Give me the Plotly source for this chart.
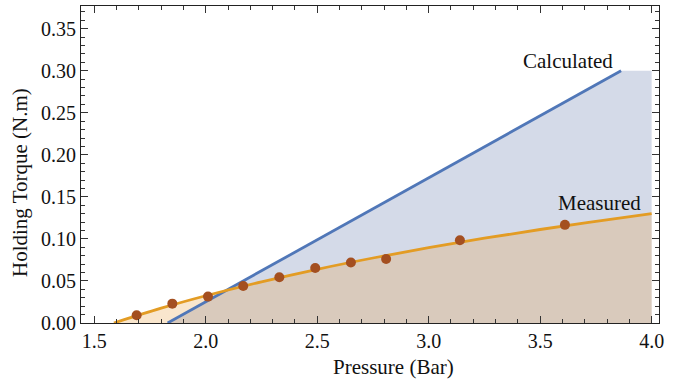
import plotly.graph_objects as go

# Calculated (theoretical) holding torque line
calc_x = [1.829, 3.863]
calc_y = [0.0, 0.30]
# Calculated fill outline (clipped plateau at 0.30 to x=4.0)
calc_fill_x = [1.829, 3.863, 4.0]
calc_fill_y = [0.0, 0.30, 0.30]

# Measured fitted curve
fit_x = [1.588, 1.8, 2.0, 2.25, 2.5, 2.75, 3.0, 3.25, 3.5, 3.75, 4.0]
fit_y = [0.0, 0.0176, 0.0324, 0.049, 0.0639, 0.0773, 0.0895, 0.1008, 0.1112, 0.1209, 0.130]

# Measured data points
meas_x = [1.690, 1.850, 2.010, 2.168, 2.330, 2.491, 2.651, 2.809, 3.140, 3.611]
meas_y = [0.0092, 0.0230, 0.0314, 0.0440, 0.0544, 0.0655, 0.0719, 0.0762, 0.0985, 0.1167]

x_ticks = [1.5, 2.0, 2.5, 3.0, 3.5, 4.0]
y_ticks = [0.0, 0.05, 0.10, 0.15, 0.20, 0.25, 0.30, 0.35]

BLUE = "#5077b8"
ORANGE = "#e39c24"
POINT = "#a44f20"
serif = "Liberation Serif"
TXT = "#111"

fig = go.Figure()
fig.add_trace(go.Scatter(x=calc_fill_x, y=calc_fill_y, mode="none", fill="tozeroy",
                         fillcolor="rgba(85,109,165,0.25)", hoverinfo="skip", showlegend=False))
fig.add_trace(go.Scatter(x=fit_x, y=fit_y, mode="none", fill="tozeroy", line_shape="spline",
                         fillcolor="rgba(231,155,55,0.25)", hoverinfo="skip", showlegend=False))
fig.add_trace(go.Scatter(x=calc_x, y=calc_y, mode="lines", line=dict(color=BLUE, width=2.8),
                         showlegend=False))
fig.add_trace(go.Scatter(x=fit_x, y=fit_y, mode="lines", line=dict(color=ORANGE, width=2.8, shape="spline"),
                         showlegend=False))
fig.add_trace(go.Scatter(x=meas_x, y=meas_y, mode="markers",
                         marker=dict(color=POINT, size=10), showlegend=False))

fig.add_annotation(x=3.624, y=0.3115, text="Calculated", showarrow=False,
                   font=dict(family=serif, size=21, color=TXT))
fig.add_annotation(x=3.768, y=0.143, text="Measured", showarrow=False,
                   font=dict(family=serif, size=21, color=TXT))

# Axis titles (placed as in the reference)
fig.add_annotation(xref="paper", yref="paper", x=0.5415, y=-0.1388, text="Pressure (Bar)",
                   showarrow=False, xanchor="center", yanchor="middle",
                   font=dict(family=serif, size=21, color=TXT))
fig.add_annotation(xref="paper", yref="paper", x=-0.1055, y=0.4416, text="Holding Torque (N.m)",
                   showarrow=False, xanchor="center", yanchor="middle", textangle=-90,
                   font=dict(family=serif, size=21, color=TXT))

axis_common = dict(showline=True, linecolor="#222", linewidth=1.2, mirror="allticks",
                   ticks="inside", tickcolor="#333", ticklen=7, tickwidth=1,
                   showgrid=False, zeroline=False,
                   tickfont=dict(family=serif, size=20, color=TXT))

fig.update_xaxes(range=[1.4404, 4.033], tickvals=x_ticks, tickformat=".1f",
                 minor=dict(dtick=0.1, tick0=1.5, ticks="inside", ticklen=4, tickcolor="#333"),
                 **axis_common)
fig.update_yaxes(range=[0, 0.377], tickvals=y_ticks, tickformat=".2f",
                 minor=dict(dtick=0.01, tick0=0, ticks="inside", ticklen=4, tickcolor="#333"),
                 **axis_common)

fig.update_layout(width=689, height=383, margin=dict(l=81, r=30, t=6, b=60),
                  plot_bgcolor="white", paper_bgcolor="white")

fig.write_html("out.html")
